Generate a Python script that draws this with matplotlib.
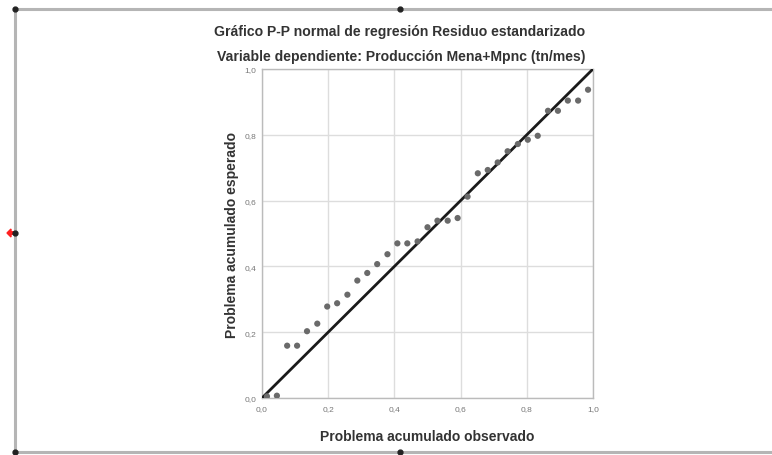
import matplotlib
matplotlib.use("Agg")
import matplotlib.pyplot as plt
from matplotlib.lines import Line2D
from matplotlib.patches import FancyArrow

plt.rcParams['font.family'] = ['Liberation Sans', 'DejaVu Sans']

# Observed vs expected cumulative probabilities of the standardized residual
observed = [0.015, 0.045, 0.076, 0.106, 0.136, 0.167, 0.197, 0.227, 0.258,
            0.288, 0.318, 0.348, 0.379, 0.409, 0.439, 0.470, 0.500, 0.530,
            0.561, 0.591, 0.621, 0.652, 0.682, 0.712, 0.742, 0.773, 0.803,
            0.833, 0.864, 0.894, 0.924, 0.955, 0.985]
expected = [0.005, 0.007, 0.159, 0.159, 0.203, 0.226, 0.278, 0.288, 0.314,
            0.357, 0.380, 0.407, 0.437, 0.470, 0.470, 0.476, 0.519, 0.539,
            0.539, 0.547, 0.612, 0.683, 0.693, 0.716, 0.750, 0.772, 0.785,
            0.797, 0.873, 0.873, 0.904, 0.904, 0.937]
ticks = [0.0, 0.2, 0.4, 0.6, 0.8, 1.0]
tick_labels = ["0,0", "0,2", "0,4", "0,6", "0,8", "1,0"]

W, H = 772, 456
fig = plt.figure(figsize=(W / 100, H / 100), dpi=100)
fig.patch.set_facecolor("white")

ax = fig.add_axes([262 / W, 1 - 399 / H, (593 - 262) / W, (399 - 70) / H])
ax.set_xlim(0, 1)
ax.set_ylim(0, 1)
ax.set_xticks(ticks)
ax.set_yticks(ticks)
ax.set_xticklabels(tick_labels)
ax.set_yticklabels(tick_labels)
ax.tick_params(length=0, labelsize=6, labelcolor="#777777", pad=4)
ax.tick_params(axis="x", pad=5)
ax.grid(True, color="#dddddd", linewidth=1.0)
ax.set_axisbelow(True)
for s in ax.spines.values():
    s.set_color("#bbbbbb")
    s.set_linewidth(1.0)

ax.plot([0, 1], [0, 1], color="#1a1a1a", linewidth=2.0, zorder=3)
ax.scatter(observed, expected, s=20, color="#6a6a6a", edgecolors="none", zorder=4)

ax.set_xlabel("Problema acumulado observado", fontsize=10, fontweight="bold",
              color="#333333", labelpad=12)
ax.set_ylabel("Problema acumulado esperado", fontsize=10, fontweight="bold",
              color="#333333", labelpad=4)

fig.text(400 / W, 1 - 32 / H, "Gráfico P-P normal de regresión Residuo estandarizado",
         ha="center", va="center", fontsize=10.1, fontweight="bold", color="#333333")
fig.text(401 / W, 1 - 57 / H, "Variable dependiente: Producción Mena+Mpnc (tn/mes)",
         ha="center", va="center", fontsize=10.1, fontweight="bold", color="#333333")

# Selection frame around the embedded chart
frame_color = "#b5b5b5"
fig.add_artist(Line2D([15 / W, 1], [1 - 10 / H, 1 - 10 / H], color=frame_color, linewidth=2.2))
fig.add_artist(Line2D([15 / W, 1], [1 - 453 / H, 1 - 453 / H], color=frame_color, linewidth=2.2))
fig.add_artist(Line2D([15 / W, 15 / W], [1 - 10 / H, 1 - 453 / H], color=frame_color, linewidth=2.2))
for hx, hy in [(15, 10), (400, 10), (15, 453), (400, 453), (15, 234)]:
    fig.add_artist(Line2D([hx / W], [1 - hy / H], marker="o", markersize=3.5,
                          color="#222222", linestyle="none"))
fig.add_artist(FancyArrow(16 / W, 1 - 234 / H, -9 / W, 0, width=2.5 / H,
                          head_width=8 / H, head_length=4 / W,
                          length_includes_head=True, color="#ff2020",
                          transform=fig.transFigure))

fig.savefig("out.png", dpi=100)
